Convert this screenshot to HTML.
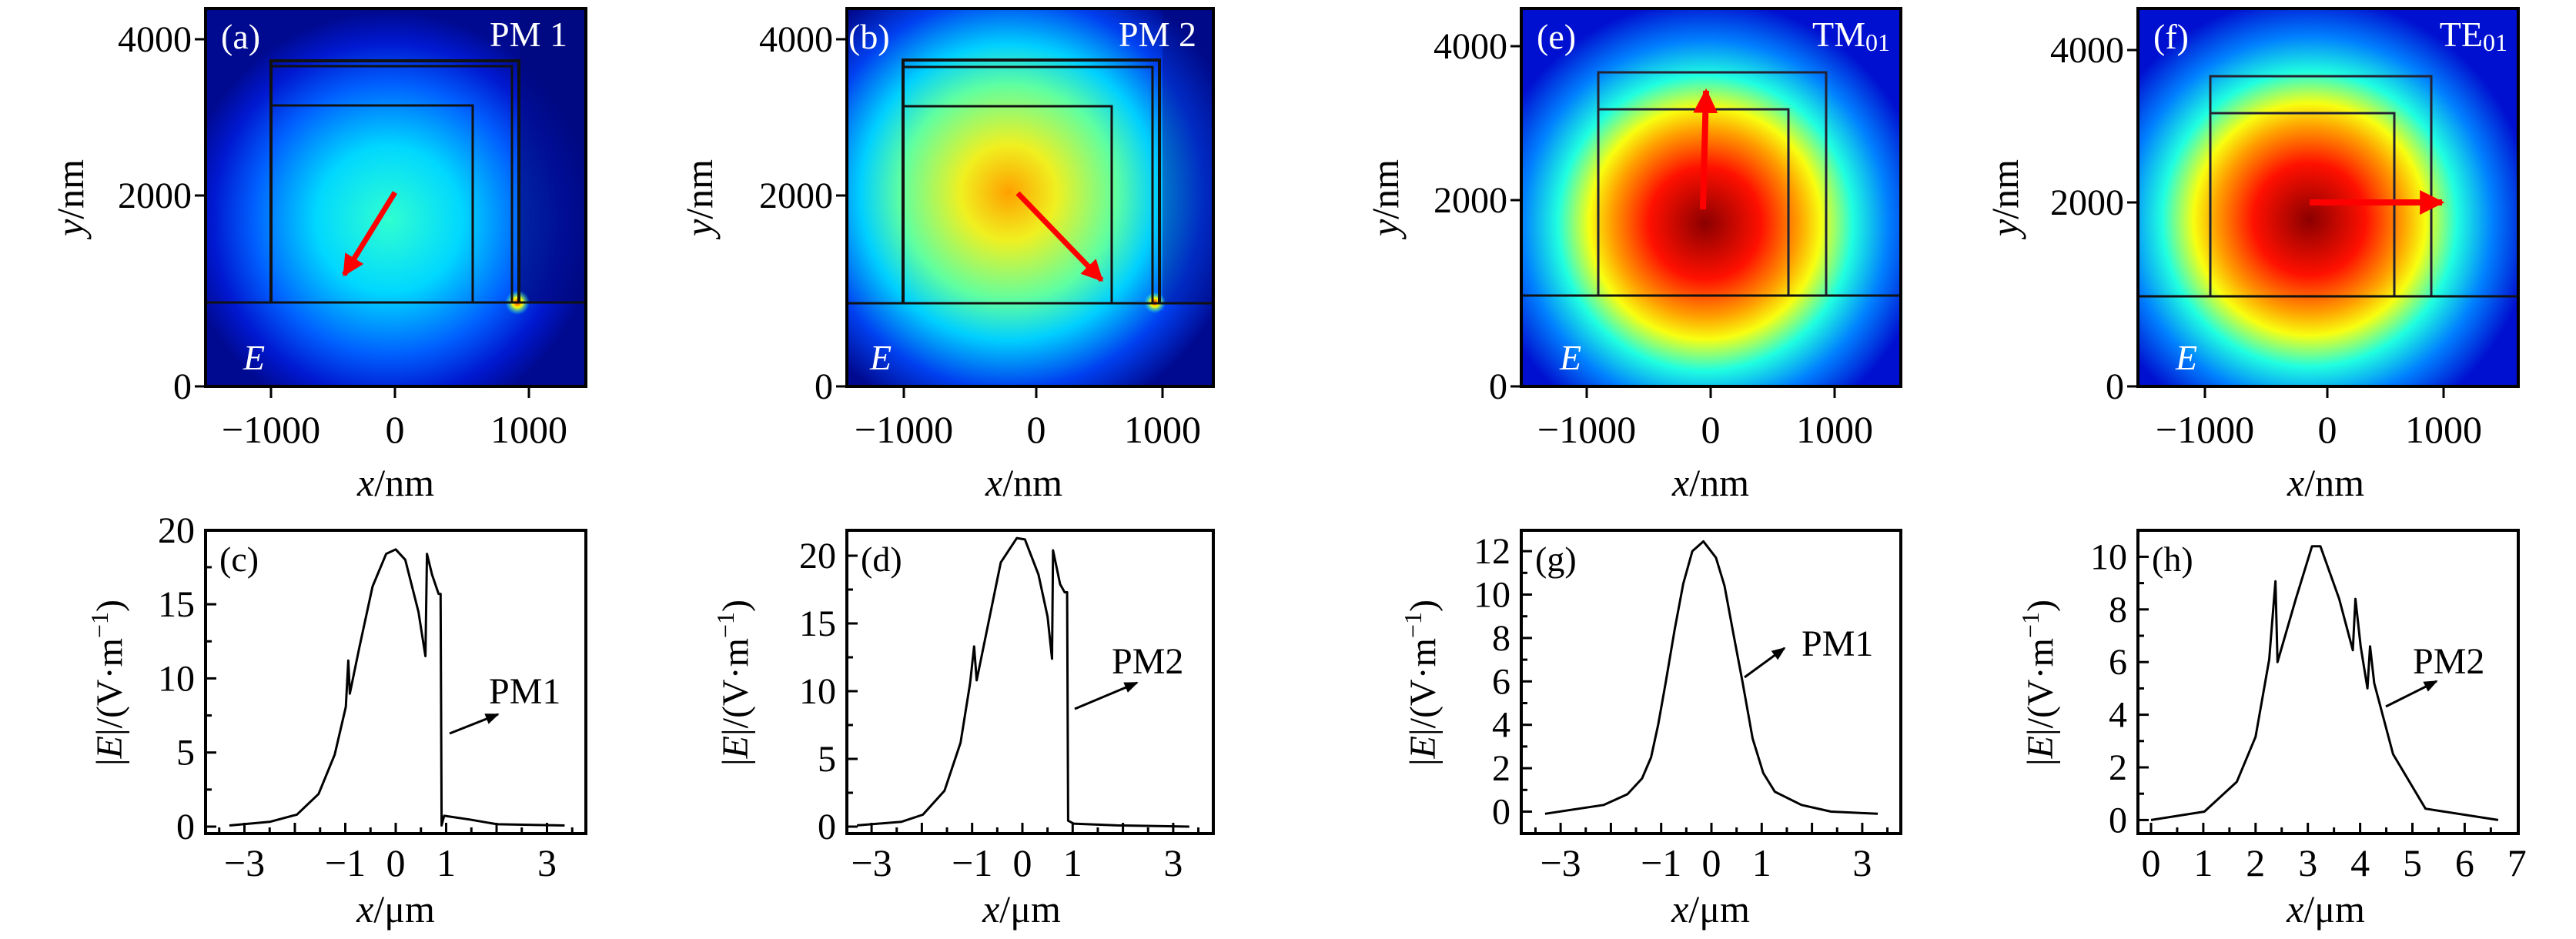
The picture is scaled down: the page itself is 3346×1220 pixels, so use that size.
<!DOCTYPE html>
<html><head><meta charset="utf-8">
<style>
html,body{margin:0;padding:0;background:#fff;}
svg{display:block;}
text{font-family:"Liberation Serif",serif;}
</style></head>
<body>
<svg id="fig" width="3346" height="1220" viewBox="0 0 3346 1220" xmlns="http://www.w3.org/2000/svg">
<defs>
<radialGradient id="gA" cx="505" cy="285" r="270" gradientUnits="userSpaceOnUse">
<stop offset="0" stop-color="#30ffd0"/><stop offset="0.35" stop-color="#00d8ff"/><stop offset="0.65" stop-color="#0060ff"/><stop offset="0.85" stop-color="#0018d0"/><stop offset="1" stop-color="#000a90"/></radialGradient>
<radialGradient id="gB" cx="1310" cy="250" r="310" gradientUnits="userSpaceOnUse">
<stop offset="0" stop-color="#ffa000"/><stop offset="0.2" stop-color="#f0f020"/><stop offset="0.45" stop-color="#60ffa0"/><stop offset="0.62" stop-color="#00d0ff"/><stop offset="0.82" stop-color="#0040f0"/><stop offset="1" stop-color="#000a90"/></radialGradient>
<radialGradient id="gE" cx="2215" cy="290" r="290" gradientUnits="userSpaceOnUse">
<stop offset="0" stop-color="#8a0000"/><stop offset="0.25" stop-color="#ff1000"/><stop offset="0.42" stop-color="#ffa000"/><stop offset="0.52" stop-color="#f8ff10"/><stop offset="0.66" stop-color="#20ffe0"/><stop offset="0.82" stop-color="#0080ff"/><stop offset="1" stop-color="#0010d0"/></radialGradient>
<radialGradient id="gF" cx="3000" cy="285" r="290" gradientUnits="userSpaceOnUse">
<stop offset="0" stop-color="#8a0000"/><stop offset="0.25" stop-color="#ff1000"/><stop offset="0.42" stop-color="#ffa000"/><stop offset="0.52" stop-color="#f8ff10"/><stop offset="0.66" stop-color="#20ffe0"/><stop offset="0.82" stop-color="#0080ff"/><stop offset="1" stop-color="#0010d0"/></radialGradient>
<radialGradient id="hot" cx="0.5" cy="0.5" r="0.5">
<stop offset="0" stop-color="#ff2000"/><stop offset="0.4" stop-color="#ffff00"/><stop offset="1" stop-color="#00ffff" stop-opacity="0"/></radialGradient>
<marker id="ah" viewBox="0 0 10 10" refX="9" refY="5" markerWidth="4" markerHeight="4" orient="auto"><path d="M0,0L10,5L0,10z" fill="#f00"/></marker>
<marker id="ak" viewBox="0 0 10 10" refX="9" refY="5" markerWidth="6" markerHeight="6" orient="auto"><path d="M0,1L10,5L0,9z" fill="#000"/></marker>
</defs>

<g>
<rect x="267" y="11" width="494" height="491" fill="#000a90"/>
<rect x="267" y="11" width="494" height="491" fill="url(#gA)"/>
<rect x="675" y="11" width="86" height="382" fill="#00087a" opacity="0.7"/>
<circle cx="672" cy="393" r="16" fill="url(#hot)"/>
<polyline points="352,393 352,79 674,79 674,393" fill="none" stroke="#111" stroke-width="4"/>
<polyline points="352,86 665,86 665,393" fill="none" stroke="#111" stroke-width="3"/>
<polyline points="352,137 614,137 614,393" fill="none" stroke="#111" stroke-width="3"/>
<line x1="267" y1="393" x2="761" y2="393" stroke="#111" stroke-width="3"/>
<line x1="513" y1="250" x2="447" y2="357" stroke="#f00" stroke-width="7" marker-end="url(#ah)"/>
<rect x="267" y="11" width="494" height="491" fill="none" stroke="#000" stroke-width="4"/>
<text x="287" y="63" font-size="46" fill="#fff">(a)</text>
<text x="737" y="60" font-size="46" fill="#fff" text-anchor="end">PM 1</text>
<text x="316" y="480" font-size="46" fill="#fff" font-style="italic">E</text>
</g>
<g>
<rect x="1100" y="11" width="476" height="491" fill="#000a90"/>
<rect x="1100" y="11" width="476" height="491" fill="url(#gB)"/>
<rect x="1510" y="11" width="66" height="382" fill="#000a80" opacity="0.4"/>
<circle cx="1500" cy="393" r="14" fill="url(#hot)"/>
<polyline points="1173,393 1173,78 1506,78 1506,393" fill="none" stroke="#111" stroke-width="4"/>
<polyline points="1173,87 1497,87 1497,393" fill="none" stroke="#111" stroke-width="3"/>
<polyline points="1173,138 1444,138 1444,393" fill="none" stroke="#111" stroke-width="3"/>
<line x1="1100" y1="394" x2="1576" y2="394" stroke="#111" stroke-width="3"/>
<line x1="1322" y1="251" x2="1431" y2="364" stroke="#f00" stroke-width="7" marker-end="url(#ah)"/>
<rect x="1100" y="11" width="476" height="491" fill="none" stroke="#000" stroke-width="4"/>
<text x="1102" y="63" font-size="46" fill="#fff">(b)</text>
<text x="1554" y="60" font-size="46" fill="#fff" text-anchor="end">PM 2</text>
<text x="1130" y="480" font-size="46" fill="#fff" font-style="italic">E</text>
</g>
<g>
<rect x="1976" y="11" width="493" height="491" fill="#0010d0"/>
<rect x="1976" y="11" width="493" height="491" fill="url(#gE)"/>
<polyline points="2076,384 2076,94 2372,94 2372,384" fill="none" stroke="#223" stroke-width="3"/>
<polyline points="2076,142 2323,142 2323,384" fill="none" stroke="#223" stroke-width="3"/>
<line x1="1976" y1="384" x2="2469" y2="384" stroke="#111" stroke-width="3"/>
<line x1="2212" y1="272" x2="2216" y2="118" stroke="#f00" stroke-width="8" marker-end="url(#ah)"/>
<rect x="1976" y="11" width="493" height="491" fill="none" stroke="#000" stroke-width="4"/>
<text x="1996" y="63" font-size="46" fill="#fff">(e)</text>
<text x="2455" y="60" font-size="46" fill="#fff" text-anchor="end">TM<tspan font-size="32" dy="6">01</tspan></text>
<text x="2026" y="480" font-size="46" fill="#fff" font-style="italic">E</text>
</g>
<g>
<rect x="2777" y="11" width="494" height="491" fill="#0010d0"/>
<rect x="2777" y="11" width="494" height="491" fill="url(#gF)"/>
<polyline points="2871,385 2871,99 3158,99 3158,385" fill="none" stroke="#223" stroke-width="3"/>
<polyline points="2871,147 3110,147 3110,385" fill="none" stroke="#223" stroke-width="3"/>
<line x1="2777" y1="385" x2="3271" y2="385" stroke="#111" stroke-width="3"/>
<line x1="3000" y1="263" x2="3172" y2="263" stroke="#f00" stroke-width="8" marker-end="url(#ah)"/>
<rect x="2777" y="11" width="494" height="491" fill="none" stroke="#000" stroke-width="4"/>
<text x="2797" y="63" font-size="46" fill="#fff">(f)</text>
<text x="3257" y="60" font-size="46" fill="#fff" text-anchor="end">TE<tspan font-size="32" dy="6">01</tspan></text>
<text x="2826" y="480" font-size="46" fill="#fff" font-style="italic">E</text>
</g>
<g id="dyn"></g>
</svg>
<script>
const topYLabels = ["4000","2000","0"];
const topXLabels = ["\u22121000","0","1000"];
const cX = [-3.3,-2.5,-1.96,-1.53,-1.21,-0.99,-0.94,-0.91,-0.72,-0.46,-0.19,0,0.19,0.45,0.59,0.62,0.72,0.85,0.89,0.91,0.96,1.47,2.01,3.35];
const cY = [0.08,0.32,0.81,2.2,4.85,8.08,11.2,8.97,12.1,16.2,18.4,18.7,18.0,14.5,11.5,18.4,17.0,15.7,15.7,0.08,0.73,0.48,0.16,0.08];
const dX = [-3.29,-2.41,-1.98,-1.55,-1.23,-1.04,-0.96,-0.91,-0.70,-0.43,-0.11,0.05,0.32,0.50,0.59,0.61,0.75,0.84,0.89,0.91,1.02,1.88,3.32];
const dY = [0.09,0.35,0.88,2.65,6.2,10.6,13.3,10.8,14.6,19.5,21.3,21.2,18.6,15.5,12.4,20.4,17.9,17.3,17.3,0.44,0.22,0.09,0.0];
const gX = [-3.31,-2.14,-1.67,-1.38,-1.2,-1.06,-0.91,-0.73,-0.56,-0.38,-0.16,0.09,0.26,0.44,0.62,0.82,1.03,1.26,1.79,2.38,3.31];
const gY = [-0.1,0.31,0.8,1.53,2.5,4.0,5.95,8.4,10.5,12.0,12.45,11.7,10.4,8.16,5.95,3.37,1.78,0.92,0.31,0,-0.1];
const hX = [0,1.02,1.64,2.0,2.26,2.38,2.42,2.77,3.08,3.24,3.6,3.86,3.91,4.01,4.14,4.19,4.27,4.63,5.25,6.64];
const hY = [0,0.32,1.45,3.16,6.1,9.07,6.0,8.4,10.4,10.4,8.4,6.45,8.4,6.6,5.0,6.6,5.2,2.5,0.43,0];
const cYTicks = [0,5,10,15,20];
const dYTicks = [0,5,10,15,20];
const gYTicks = [0,2,4,6,8,10,12];
const hYTicks = [0,2,4,6,8,10];
const symXLabels = [-3,-1,0,1,3];
const hXLabels = [0,1,2,3,4,5,6,7];

const NS="http://www.w3.org/2000/svg";
const root=document.getElementById('dyn');
function mk(tag,attrs,parent){const e=document.createElementNS(NS,tag);for(const k in attrs)e.setAttribute(k,attrs[k]);(parent||root).appendChild(e);return e;}
function txt(s,x,y,size,anchor,parent){const t=mk('text',{x:x,y:y,'font-size':size,'text-anchor':anchor||'middle',fill:'#000'},parent);t.textContent=s;return t;}
function minus(v){return v<0?'\u2212'+Math.abs(v):String(v);}

const tops=[
 {id:'a',L:267,R:761,ys:[51,254,502],xs:[352,513,687],yt:92,xt:514},
 {id:'b',L:1100,R:1576,ys:[51,254,502],xs:[1174,1346,1510],yt:909,xt:1330},
 {id:'e',L:1976,R:2469,ys:[60,260,502],xs:[2061,2222,2383],yt:1800,xt:2222},
 {id:'f',L:2777,R:3271,ys:[65,263,502],xs:[2864,3023,3174],yt:2605,xt:3021}];
tops.forEach(p=>{
 const g=mk('g',{});
 
 
 p.ys.forEach((y,i)=>{mk('line',{x1:p.L-14,y1:y,x2:p.L,y2:y,stroke:'#000','stroke-width':3},g);
   const t=txt(topYLabels[i],p.L-18,y+16,48,'end',g);
   
   });
 p.xs.forEach((x,i)=>{mk('line',{x1:x,y1:502,x2:x,y2:517,stroke:'#000','stroke-width':3},g);
   const t=txt(topXLabels[i],x,575,50,'middle',g);
   
   });
 const xt=mk('text',{x:p.xt,y:644,'font-size':50,'text-anchor':'middle'},g);
 xt.innerHTML='<tspan font-style="italic">x</tspan>/nm';
 
 
 const yt=mk('text',{x:0,y:0,'font-size':50,'text-anchor':'middle',transform:'translate('+(p.yt+16)+',257) rotate(-90)'},g);
 yt.innerHTML='<tspan font-style="italic">y</tspan>/nm';
 
 
});

const T=689,B=1083;
const charts=[
 {id:'c',L:267,R:761,x0:514,xu:65.5,y0:1074,yu:19.26,X:cX,Y:cY,yt:cYTicks,ym:2.5,xl:symXLabels,xmin:-3.5,xmax:3.5,tit:142,xt:514,lab:'(c)',ann:'PM1',arr:[584,953,647,928],ap:[635,914]},
 {id:'d',L:1100,R:1576,x0:1328,xu:65.3,y0:1074,yu:17.6,X:dX,Y:dY,yt:dYTicks,ym:2.5,xl:symXLabels,xmin:-3.5,xmax:3.5,tit:955,xt:1327,lab:'(d)',ann:'PM2',arr:[1396,921,1477,887],ap:[1444,875]},
 {id:'g',L:1976,R:2469,x0:2223,xu:65.3,y0:1054.5,yu:28.2,X:gX,Y:gY,yt:gYTicks,ym:1,xl:symXLabels,xmin:-3.5,xmax:3.5,tit:1848,xt:2222,lab:'(g)',ann:'PM1',arr:[2266,880,2318,842],ap:[2340,852]},
 {id:'h',L:2777,R:3271,x0:2794,xu:67.9,y0:1065.4,yu:34.2,X:hX,Y:hY,yt:hYTicks,ym:1,xl:hXLabels,xmin:0,xmax:7,tit:2650,xt:3021,lab:'(h)',ann:'PM2',arr:[3099,918,3165,885],ap:[3134,875]}];
charts.forEach(c=>{
 const sx=v=>c.x0+v*c.xu, sy=v=>c.y0-v*c.yu;
 const g=mk('g',{});
 
 
 mk('rect',{x:c.L,y:T,width:c.R-c.L,height:B-T,fill:'none',stroke:'#000','stroke-width':4},g);
 const ymax=c.yt[c.yt.length-1];
 for(let v=0;v<=ymax+c.ym+1e-6;v+=c.ym){const y=sy(v);if(y<T+2)continue;
   const maj=c.yt.indexOf(Math.round(v*100)/100)>=0;
   mk('line',{x1:c.L,y1:y,x2:c.L+(maj?14:8),y2:y,stroke:'#000','stroke-width':3},g);}
 c.yt.forEach(v=>{const t=txt(String(v),c.L-14,sy(v)+16,48,'end',g);
   
   });
 for(let v=c.xmin;v<=c.xmax+1e-6;v+=0.5){const x=sx(v);if(x<c.L+2||x>c.R-2)continue;
   const maj=Math.abs(v-Math.round(v))<1e-6;
   mk('line',{x1:x,y1:B,x2:x,y2:B-(maj?14:8),stroke:'#000','stroke-width':3},g);}
 c.xl.forEach(v=>{const t=txt(minus(v),sx(v),1138,50,'middle',g);
   
   });
 const pts=c.X.map((x,i)=>sx(x).toFixed(1)+','+sy(c.Y[i]).toFixed(1)).join(' ');
 const pl=mk('polyline',{points:pts,fill:'none',stroke:'#000','stroke-width':3,'stroke-linejoin':'round'},g);
 
 
 const lb=txt(c.lab,c.L+18,742,46,'start',g);
 
 
 const an=txt(c.ann,c.ap[0],c.ap[1],48,'start',g);
 
 
 const ar=mk('line',{x1:c.arr[0],y1:c.arr[1],x2:c.arr[2],y2:c.arr[3],stroke:'#000','stroke-width':3,'marker-end':'url(#ak)'},g);
 
 
 const xt=mk('text',{x:c.xt,y:1198,'font-size':50,'text-anchor':'middle'},g);
 xt.innerHTML='<tspan font-style="italic">x</tspan>/\u03bcm';
 
 
 const yt=mk('text',{x:0,y:0,'font-size':48,'text-anchor':'middle',transform:'translate('+(c.tit+16)+',887) rotate(-90)'},g);
 yt.innerHTML='|<tspan font-style="italic">E</tspan>|/(V\u00b7m<tspan font-size="32" dy="-18">\u22121</tspan><tspan dy="18">)</tspan>';
 
 
});
</script>
</body></html>
